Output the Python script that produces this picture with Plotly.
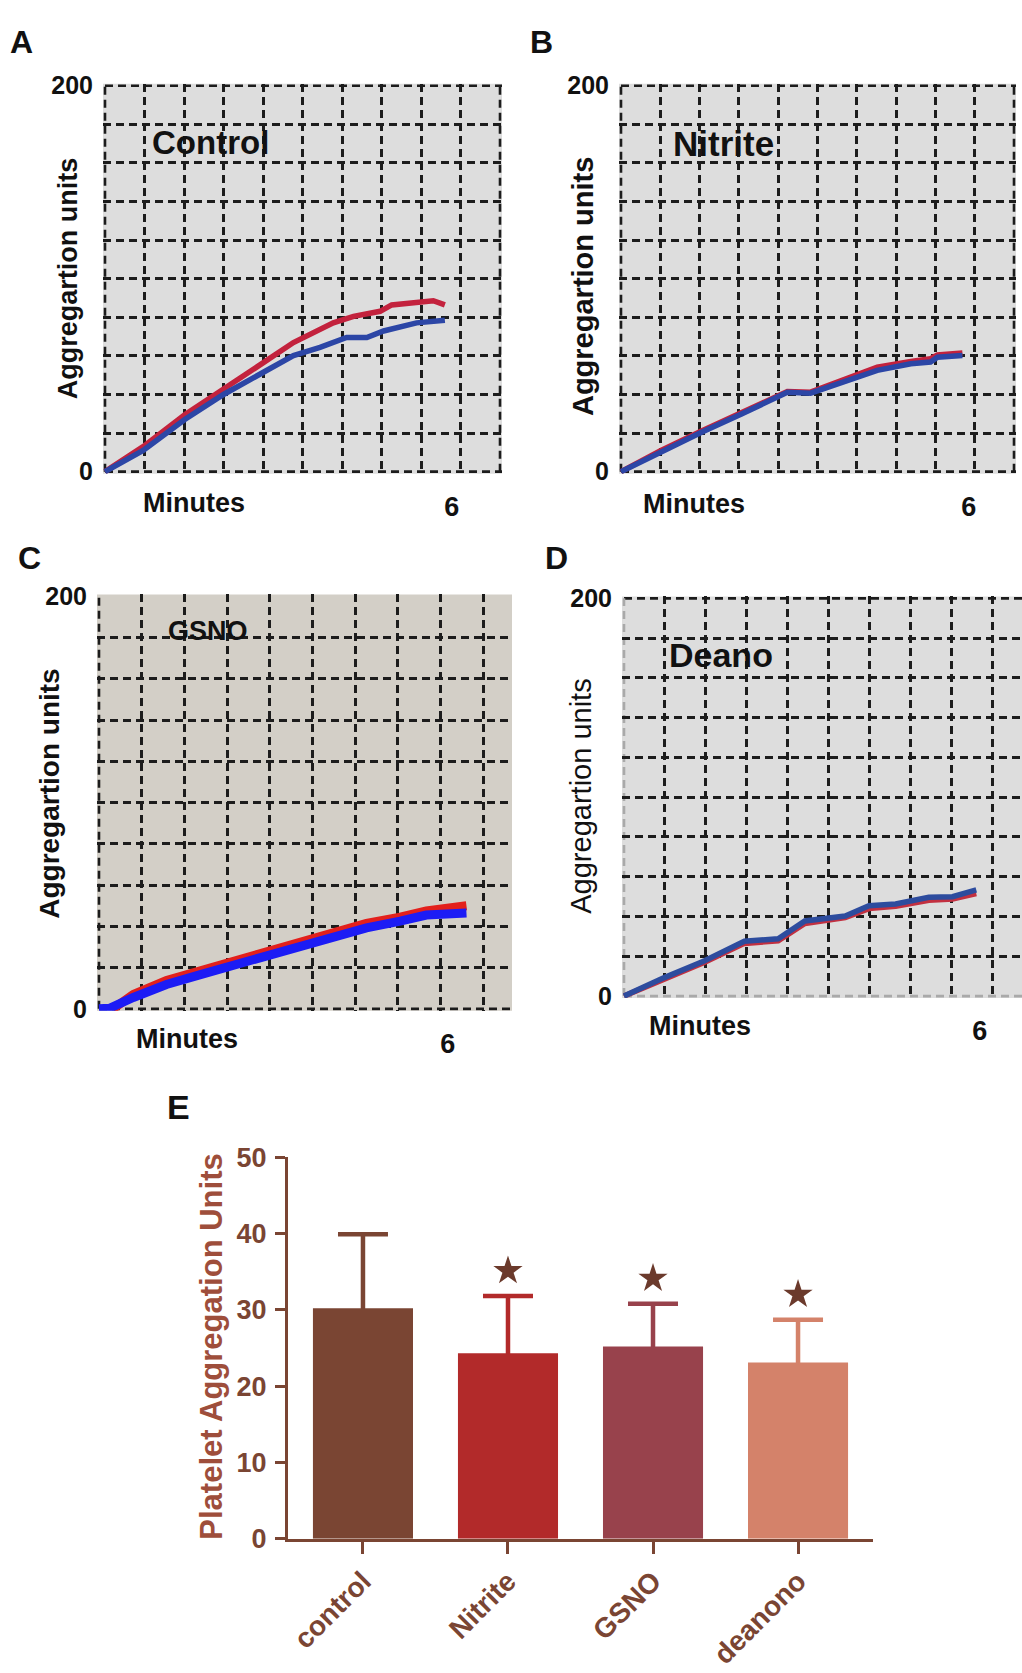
import plotly.graph_objects as go

W, H = 1022, 1673
FONT = "Liberation Sans, Arial, Helvetica, sans-serif"
NARROW = "Liberation Sans Narrow, Arial Narrow, Liberation Sans, sans-serif"

# ---------------- aggregometry traces (minutes, aggregation units) ----------------
ctrl_t_red = [0, 0.66, 1.38, 2.05, 2.74, 3.26, 3.95, 4.30, 4.76, 4.96, 5.45, 5.68, 5.88]
ctrl_red = [0, 13.0, 29.5, 42.5, 56.5, 66.9, 77.1, 80.5, 83.1, 86.4, 88.1, 88.6, 86.4]
ctrl_t_blue = [0, 0.66, 1.38, 2.05, 2.74, 3.26, 3.72, 4.18, 4.53, 4.82, 5.39, 5.88]
ctrl_blue = [0, 11.0, 27.0, 40.0, 51.5, 60.2, 64.4, 69.5, 69.5, 72.9, 77.1, 78.5]

nitr_t = [0, 0.69, 1.38, 2.07, 2.87, 3.27, 3.85, 4.42, 5.00, 5.34, 5.46, 5.89]
nitr_red = [0, 11.0, 21.0, 30.5, 41.5, 41.2, 47.5, 54.2, 57.1, 58.5, 60.5, 61.5]
nitr_blue = [0, 10.2, 20.3, 29.7, 41.2, 40.7, 46.3, 52.5, 55.9, 56.8, 59.3, 60.2]

gsno_t_red = [0.24, 0.59, 1.16, 1.73, 2.31, 2.88, 3.45, 4.03, 4.60, 5.18, 5.63, 6.32]
gsno_red = [0, 7.0, 13.8, 18.5, 23.3, 28.3, 32.8, 37.5, 41.5, 44.5, 47.5, 50.0]
gsno_t_blue = [0, 0.18, 0.59, 1.16, 1.73, 2.31, 2.88, 3.45, 4.03, 4.60, 5.18, 5.63, 6.32]
gsno_blue = [0, 0.3, 5.5, 11.8, 16.5, 21.2, 26.0, 30.7, 35.4, 39.3, 42.5, 45.5, 46.5]

dean_t = [0, 0.68, 1.36, 2.03, 2.60, 3.05, 3.73, 4.13, 4.58, 5.14, 5.54, 5.94]
dean_red = [0, 8.8, 17.0, 26.5, 27.8, 36.5, 39.5, 44.0, 45.2, 48.2, 48.8, 51.5]
dean_blue = [0, 9.3, 17.8, 27.6, 28.8, 37.8, 40.3, 45.4, 46.3, 49.7, 50.0, 53.4]

y_ticks = [0, 200]
y_ticktext = ["0", "200"]
x_ticks = [6]
x_ticktext = ["6"]

# ---------------- summary bar chart ----------------
groups = ["control", "Nitrite", "GSNO", "deanono"]
means = [30.2, 24.3, 25.2, 23.1]
sds = [9.7, 7.5, 5.6, 5.6]
significant = [False, True, True, True]
bar_colors = ["#7a4533", "#b22a2a", "#98424c", "#d4826a"]

BROWN = "#7a4533"
GRID_COLOR = "#1c1c1c"
GRID_DASH = "8px,5px"
GRID_W = 2.6
PAD = 2.0


def px(p):
    return p / W


def py(p):
    return 1 - p / H


fig = go.Figure()
layout = dict(width=W, height=H, margin=dict(l=0, r=0, t=0, b=0),
              paper_bgcolor="white", plot_bgcolor="white", showlegend=False)
bg_shapes = []
line_shapes = []
annotations = []

panels = [
    dict(n=1, left=105, top=72, bottom=465, col=39.5, right=500, col6=8.78, bg="#dddddd",
         borders={"left": GRID_COLOR, "right": GRID_COLOR, "top": GRID_COLOR, "bottom": GRID_COLOR},
         curves=[(ctrl_t_red, ctrl_red, "#c3223d", 5.5), (ctrl_t_blue, ctrl_blue, "#2c46a6", 5.5)]),
    dict(n=2, left=621, top=72, bottom=465, col=39.3, right=1014, col6=8.85, bg="#dddddd",
         borders={"left": GRID_COLOR, "right": GRID_COLOR, "top": GRID_COLOR, "bottom": GRID_COLOR},
         curves=[(nitr_t, nitr_red, "#c3223d", 5.5), (nitr_t, nitr_blue, "#2c46a6", 5.5)]),
    dict(n=3, left=99, top=592, bottom=1012, col=42.7, right=512, col6=8.17, bg="#d3cfc7",
         borders={"left": GRID_COLOR, "bottom": GRID_COLOR},
         curves=[(gsno_t_red, gsno_red, "#e3201c", 9), (gsno_t_blue, gsno_blue, "#1c1cf5", 9)]),
    dict(n=4, left=624, top=594, bottom=999, col=40.9, right=1022, col6=8.70, bg="#dddddd",
         borders={"top": GRID_COLOR, "left": "#a9a9a9", "bottom": "#a9a9a9"},
         curves=[(dean_t, dean_red, "#c23040", 5.5), (dean_t, dean_blue, "#2d4c9e", 5.5)]),
]

for p in panels:
    n = p["n"]
    sfx = "" if n == 1 else str(n)
    unit = 6 / p["col6"]
    row = (p["bottom"] - p["top"]) / 10
    rpad = PAD if "right" in p["borders"] else 0
    right = min(p["right"] + rpad, W)
    x_range = [-PAD / p["col"] * unit, (right - p["left"]) / p["col"] * unit]
    y_range = [-PAD / row * 20, 200 + PAD / row * 20]
    grid = dict(showgrid=True, gridcolor=GRID_COLOR, griddash=GRID_DASH, gridwidth=GRID_W, ticks="")
    layout["xaxis" + sfx] = dict(
        domain=[px(p["left"] - PAD), px(right)], range=x_range, anchor="y" + sfx,
        tickmode="array", tickvals=x_ticks, ticktext=x_ticktext, ticks="",
        showgrid=False, zeroline=False, showline=False, ticklabelstandoff=14,
        tickfont=dict(family=FONT, size=27, color="#111111", weight=700),
        minor=dict(tickmode="array", tickvals=[k * unit for k in range(1, 10)], **grid))
    layout["yaxis" + sfx] = dict(
        domain=[py(p["bottom"] + PAD), py(p["top"] - PAD)], range=y_range, anchor="x" + sfx,
        tickmode="array", tickvals=y_ticks, ticktext=y_ticktext, ticks="",
        showgrid=False, zeroline=False, showline=False, ticklabelstandoff=9,
        tickfont=dict(family=FONT, size=25, color="#111111", weight=700),
        minor=dict(tickmode="array", tickvals=list(range(20, 200, 20)), **grid))

    xr, yr = "x" + sfx, "y" + sfx
    edge = {"left": (0, 0, 0, 200), "right": (10 * unit, 10 * unit, 0, 200),
            "top": (0, x_range[1], 200, 200), "bottom": (0, x_range[1], 0, 0)}
    for side, color in p["borders"].items():
        x0, x1, y0, y1 = edge[side]
        line_shapes.append(dict(type="line", xref=xr, yref=yr, x0=x0, x1=x1, y0=y0, y1=y1,
                                layer="below", line=dict(color=color, width=GRID_W, dash=GRID_DASH)))
    # tinted plotting area of this panel
    bg_shapes.append(dict(type="rect", xref=xr + " domain", yref=yr + " domain", x0=0, x1=1, y0=0, y1=1,
                          layer="below", line=dict(width=0), fillcolor=p["bg"]))

    for t, v, color, width in p["curves"]:
        fig.add_trace(go.Scatter(x=t, y=v, mode="lines", xaxis=xr, yaxis=yr,
                                 line=dict(color=color, width=width), hoverinfo="skip"))


def ann(text, x, y, size, weight=700, angle=0, xanchor="center", color="#111111", family=FONT):
    annotations.append(dict(text=text, x=px(x), y=py(y), xref="paper", yref="paper",
                            showarrow=False, xanchor=xanchor, yanchor="middle", textangle=angle,
                            font=dict(family=family, size=size, color=color, weight=weight)))


# panel letters
ann("A", 21, 27, 32)
ann("B", 541, 28, 32)
ann("C", 29, 553, 32)
ann("D", 556, 553, 32)
ann("E", 178, 1112, 34, family=NARROW)

# treatment names inside the tracings
ann("Control", 150, 130, 33, xanchor="left")
ann("Nitrite", 671, 131, 35, xanchor="left")
ann("GSNO", 166, 627, 27, xanchor="left")
ann("Deano", 667, 652, 34, xanchor="left")

# axis titles of the tracings
ann("Aggregartion units", 68, 268, 27, angle=-90)
ann("Aggregartion units", 583, 277, 29, angle=-90)
ann("Aggregartion units", 50, 793, 28, angle=-90)
ann("Aggregartion units", 581, 796, 29, weight=400, angle=-90)
ann("Minutes", 194, 497, 27)
ann("Minutes", 694, 498, 27)
ann("Minutes", 187, 1043, 27)
ann("Minutes", 700, 1029, 27)

# ---------------- panel E ----------------
# Upper error whiskers start slightly inside each bar so the lower cross-bar is hidden by the bar.
WHISKER_INSET = 0.6
for g, m, s, c in zip(groups, means, sds, bar_colors):
    fig.add_trace(go.Bar(x=[g], y=[m - WHISKER_INSET], xaxis="x5", yaxis="y5", width=0.69,
                         marker=dict(color="rgba(0,0,0,0)", line=dict(width=0)),
                         error_y=dict(type="data", array=[s + WHISKER_INSET], arrayminus=[0],
                                      symmetric=False, color=c, thickness=4.5, width=25),
                         hoverinfo="skip"))
for g, m, c in zip(groups, means, bar_colors):
    fig.add_trace(go.Bar(x=[g], y=[m], xaxis="x5", yaxis="y5", width=0.69,
                         marker=dict(color=c, line=dict(width=0)), hoverinfo="skip"))

star_x = [g for g, f in zip(groups, significant) if f]
star_y = [m + s + 3.3 for m, s, f in zip(means, sds, significant) if f]
fig.add_trace(go.Scatter(x=star_x, y=star_y, mode="markers", xaxis="x5", yaxis="y5",
                         marker=dict(symbol="star", size=22, color="#6b3a2c", line=dict(width=0)),
                         hoverinfo="skip"))

layout["xaxis5"] = dict(domain=[px(288), px(873)], anchor="y5", type="category",
                        categoryorder="array", categoryarray=groups, range=[-0.517, 3.517],
                        showline=True, linecolor=BROWN, linewidth=3, ticks="outside",
                        ticklen=12, tickwidth=3, tickcolor=BROWN, tickangle=-45,
                        tickfont=dict(family=FONT, size=28, color=BROWN, weight=700),
                        showgrid=False, zeroline=False)
layout["yaxis5"] = dict(domain=[py(1551.5), py(1163)], anchor="x5", range=[0, 50],
                        tickmode="array", tickvals=[0, 10, 20, 30, 40, 50],
                        showline=True, linecolor=BROWN, linewidth=3, ticks="outside",
                        ticklen=10, tickwidth=3, tickcolor=BROWN, ticklabelstandoff=3,
                        tickfont=dict(family=FONT, size=27, color=BROWN, weight=700),
                        showgrid=False, zeroline=False)
ann("Platelet Aggregation Units", 212, 1356, 31, angle=-90, color="#9e4e3b")

layout["barmode"] = "overlay"
layout["shapes"] = bg_shapes + line_shapes
layout["annotations"] = annotations
fig.update_layout(**layout)

fig.write_html("out.html")
